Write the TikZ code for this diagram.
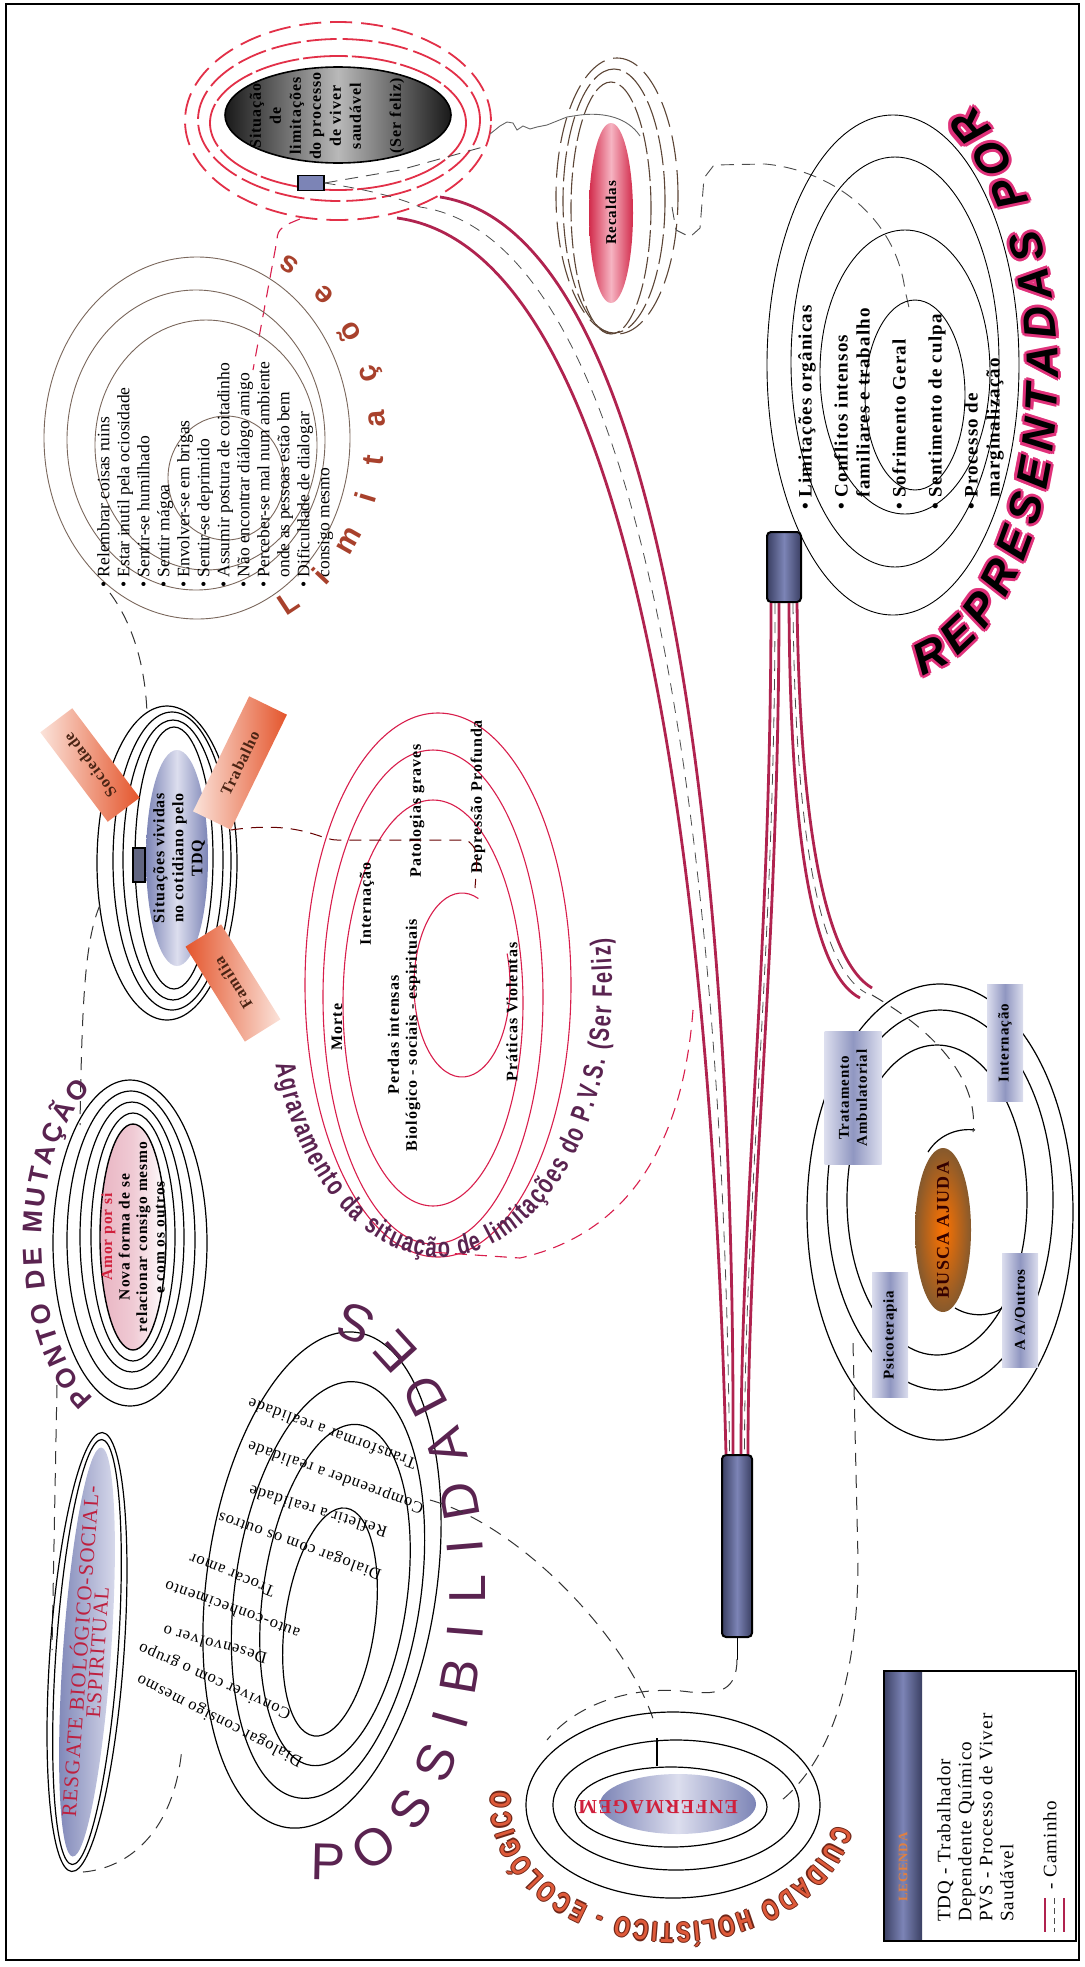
\documentclass[tikz,border=0pt]{standalone}
\usepackage{fontspec}
\setmainfont{Liberation Serif}
\setsansfont{Liberation Sans}
\newfontfamily\wideserif[LetterSpace=6]{Liberation Serif}
\newfontfamily\narrowsans[FakeStretch=0.72]{Liberation Sans}
\usetikzlibrary{shapes.geometric, positioning, decorations.text}

\newcommand\fsz[2]{\fontsize{#1}{#2}\selectfont}
\newcommand\reptext{\sffamily\bfseries\itshape\fsz{45}{45}}

\definecolor{road}{HTML}{B0234F}
\definecolor{ringred}{HTML}{E23048}
\definecolor{ringbrown}{HTML}{5C4536}
\definecolor{listbrown}{HTML}{7A675C}
\definecolor{spiral}{HTML}{D81E4C}
\definecolor{plum}{HTML}{5A2350}
\definecolor{rust}{HTML}{A8412C}
\definecolor{tabor}{HTML}{E4552C}
\definecolor{tabpale}{HTML}{FBE3DA}
\definecolor{tabtext}{HTML}{4A2414}
\definecolor{slate}{HTML}{7C84B6}
\definecolor{slatelt}{HTML}{DCDEEE}
\definecolor{slatedk}{HTML}{3A3F62}
\definecolor{pinkglow}{HTML}{E0317A}
\definecolor{ecoor}{HTML}{DE5A3A}
\definecolor{ecodk}{HTML}{6E2618}
\definecolor{amorred}{HTML}{D0203C}
\definecolor{recred}{HTML}{D22B4B}
\definecolor{recpale}{HTML}{F6B4C2}
\definecolor{amorpink}{HTML}{E9B4C2}
\definecolor{legor}{HTML}{E08040}

\begin{document}
\begin{tikzpicture}[
  x=1pt, y=-1pt,
  ring/.style={draw=black, line width=1.2pt},
  listring/.style={draw=listbrown, line width=0.9pt},
  redring/.style={draw=ringred, line width=1.8pt},
  brownring/.style={draw=ringbrown, line width=1.1pt, dash pattern=on 22pt off 5pt},
  spiralring/.style={draw=spiral, line width=1.1pt},
  roadline/.style={draw=road, line width=2.8pt},
  roadmid/.style={draw=gray!60!black, line width=0.8pt, dash pattern=on 11pt off 8pt},
  link/.style={draw=black!80, line width=1pt, dash pattern=on 13pt off 9pt},
  redlink/.style={draw=spiral, line width=1.1pt, dash pattern=on 12pt off 8pt},
  graylink/.style={draw=gray!60!black, line width=0.9pt, dash pattern=on 13pt off 8pt},
  vlabel/.style={rotate=90, align=center, inner sep=0pt},
  blob/.style={ellipse, inner sep=0pt},
  plug/.style={draw=black, line width=2pt, rounded corners=4pt, inner sep=0pt, left color=slatedk, right color=slatedk, middle color=slate},
  tab/.style={inner sep=0pt, text=tabtext, font=\wideserif\bfseries\fsz{16}{18}, left color=tabpale, right color=tabor},
  bluebox/.style={rotate=90, inner sep=0pt, align=center, font=\wideserif\bfseries\fsz{15}{18}, left color=slatelt, right color=slatelt, middle color=slate!85},
  upside/.style={inner sep=0pt, font=\wideserif\fsz{16.5}{18}},
]
\useasboundingbox (0,0) rectangle (1084,1967);

% Frame
\draw[line width=2.5pt] (6,4) rectangle (1079,1960);

% Situacao de limitacoes
\draw[redring, dash pattern=on 45pt off 4pt] (338,123) ellipse[x radius=128pt, y radius=67pt];
\draw[redring, dash pattern=on 30pt off 6pt] (339,120) ellipse[x radius=141pt, y radius=81pt];
\draw[redring, dash pattern=on 22pt off 9pt] (338,121) ellipse[x radius=153pt, y radius=99pt];
\node[blob, draw=black, line width=1.6pt, minimum width=226pt, minimum height=96pt, left color=gray!20!black, right color=gray!20!black, middle color=gray!55] (sit) at (338,115) {};
\node[vlabel, font=\wideserif\bfseries\fsz{16}{20}] (sittext) at (327,116) {Situação\\de\\limitações\\do processo\\de viver\\saudável\\[20pt](Ser feliz)};
\node[draw=black, line width=1.2pt, fill=slate, minimum width=26pt, minimum height=15pt, inner sep=0pt] (sitplug) at (311,183) {};

% Recaidas
\draw[brownring] (611,208) ellipse[x radius=40pt, y radius=126pt];
\draw[brownring, dash pattern=on 30pt off 6pt] (614,201) ellipse[x radius=51pt, y radius=132pt];
\draw[brownring, dash pattern=on 26pt off 9pt] (617,196) ellipse[x radius=61pt, y radius=138pt];
\node[blob, minimum width=44pt, minimum height=180pt, left color=recred, right color=recred, middle color=recpale] (rec) at (611,213) {};
\node[vlabel, font=\wideserif\bfseries\fsz{15}{18}] (rectext) at (rec) {Recaldas};
\draw[black!60, line width=0.9pt] (490,134) -- (500,126) -- (507,122) -- (513,123) -- (517,130) -- (523,126) -- (530,129) -- (537,127) -- (547,125) -- (557,121) -- (567,117) -- (580,115) .. controls (605,112) and (628,118) .. (640,136);
\draw[graylink] (sitplug.east) -- (400,170) -- (483,147);
\draw[graylink] (672,207) -- (676,230) -- (690,237) -- (700,228) -- (704,178) -- (714,165) -- (765,164) .. controls (830,170) and (895,215) .. (905,290) -- (910,312);
\draw[redlink] (300,219) .. controls (285,225) and (277,228) .. (277,240) -- (253,370);

% Limitacoes (lista)
\draw[listring] (197,438) ellipse[x radius=153pt, y radius=181pt];
\draw[listring] (196,440) ellipse[x radius=129pt, y radius=150pt];
\draw[listring] (206,445) ellipse[x radius=111pt, y radius=125pt];
\draw[listring] (226,478) ellipse[x radius=58pt, y radius=62pt];
\node[vlabel, anchor=north west, align=left, font=\fsz{17.5}{20}] (limlist) at (97,588) {\textbullet\ Relembrar coisas ruins\\
\textbullet\ Estar inutil pela ociosidade\\
\textbullet\ Sentir-se humilhado\\
\textbullet\ Sentir mágoa\\
\textbullet\ Envolver-se em brigas\\
\textbullet\ Sentir-se deprimido\\
\textbullet\ Assumir postura de coitadinho\\
\textbullet\ Não encontrar diálogo amigo\\
\textbullet\ Perceber-se mal num ambiente\\
\phantom{\textbullet\ }onde as pessoas estão bem\\
\textbullet\ Dificuldade de dialogar\\
\phantom{\textbullet\ }consigo mesmo};
\path[decorate, decoration={text along path, text align=fit to path, text color=rust, text={|\sffamily\bfseries\fsz{30}{30}|Limitações}}]
  ({200+185*cos(-62)},{435-205*sin(-62)}) arc[start angle=-62, end angle=62, x radius=185pt, y radius=205pt];

% Limitacoes organicas
\draw[ring, line width=0.9pt] (893,365) ellipse[x radius=126pt, y radius=250pt];
\draw[ring, line width=0.9pt] (895,362) ellipse[x radius=104pt, y radius=205pt];
\draw[ring, line width=0.9pt] (905,372) ellipse[x radius=85pt, y radius=142pt];
\draw[ring, line width=0.9pt] (915,395) ellipse[x radius=50pt, y radius=95pt];
\node[vlabel, anchor=north west, align=left, font=\wideserif\bfseries\fsz{19}{22}] (orglist) at (798,510) {\textbullet\ Limitações orgânicas\\[14pt]
\textbullet\ Conflitos intensos\\
\phantom{\textbullet\ }familiares e trabalho\\[14pt]
\textbullet\ Sofrimento Geral\\[14pt]
\textbullet\ Sentimento de culpa\\[14pt]
\textbullet\ Processo de\\
\phantom{\textbullet\ }marginalização};
\foreach \dx/\dy in {-3/0,3/0,0/-3,0/3,-2.1/-2.1,2.1/2.1,-2.1/2.1,2.1/-2.1}
  \path[shift={(\dx,\dy)}, decorate, decoration={text along path, text align=fit to path, text color=pinkglow, text={|\reptext|REPRESENTADAS POR}}]
    ({893+165*cos(-80)},{375-305*sin(-80)}) arc[start angle=-80, end angle=62, x radius=165pt, y radius=305pt];
\path[decorate, decoration={text along path, text align=fit to path, text color=black, text={|\reptext|REPRESENTADAS POR}}]
  ({893+165*cos(-80)},{375-305*sin(-80)}) arc[start angle=-80, end angle=62, x radius=165pt, y radius=305pt];

% Caminhos
\node[plug, minimum width=34pt, minimum height=70pt] (plugtop) at (784,567) {};
\node[plug, minimum width=30pt, minimum height=182pt] (plugbot) at (737,1546) {};
\draw[roadline] (397,218) .. controls (640,250) and (712,900) .. ([xshift=-11pt]plugbot.north);
\draw[roadline] (440,197) .. controls (670,232) and (735,880) .. ([xshift=-4pt]plugbot.north);
\draw[roadmid] (sitplug.east) .. controls (370,190) and (400,198) .. (420,207) .. controls (655,241) and (724,890) .. ([xshift=-7.5pt]plugbot.north);
\draw[roadline] ([xshift=-13pt]plugtop.south) .. controls (771,950) and (741,1200) .. ([xshift=4pt]plugbot.north);
\draw[roadline] ([xshift=-5pt]plugtop.south) .. controls (779,950) and (748,1200) .. ([xshift=11pt]plugbot.north);
\draw[roadmid] ([xshift=-9pt]plugtop.south) .. controls (775,950) and (744.5,1200) .. ([xshift=7.5pt]plugbot.north);
\draw[roadline] ([xshift=5pt]plugtop.south) .. controls (790,850) and (815,975) .. (860,998);
\draw[roadline] ([xshift=13pt]plugtop.south) .. controls (800,840) and (828,962) .. (872,988);
\draw[roadmid] ([xshift=9pt]plugtop.south) .. controls (795,845) and (821,968) .. (866,993);

% Agravamento
\draw[spiralring] (438,985) ellipse[x radius=133pt, y radius=272pt];
\draw[spiralring] (433,997) ellipse[x radius=110pt, y radius=247pt];
\draw[spiralring] (433,1003) ellipse[x radius=90pt, y radius=203pt];
\draw[spiralring] ({462+48*cos(70)},{985-92*sin(70)}) arc[start angle=70, end angle=380, x radius=48pt, y radius=92pt];
\foreach \txt/\px/\py [count=\k] in {Morte/337/1027, Internação/367/904, Patologias graves/417/811, Depressão Profunda/478/797, Práticas Violentas/512/1012}
  \node[vlabel, font=\wideserif\bfseries\fsz{16}{18}] (grave\k) at (\px,\py) {\txt};
\node[vlabel, font=\wideserif\bfseries\fsz{16}{18}] (perdas) at (404,1035) {Perdas intensas\\Biológico - sociais - espirituais};
\path[decorate, decoration={text along path, text align=fit to path, text color=plum, text={|\narrowsans\bfseries\fsz{28}{28}|Agravamento da situação de limitações do P.V.S. (Ser Feliz)}}]
  ({440+172*cos(-163)},{985-272*sin(-163)}) arc[start angle=-163, end angle=10, x radius=172pt, y radius=272pt];
\draw[redlink] (693,1010) .. controls (680,1180) and (600,1240) .. (520,1258) -- (430,1252);

% Situacoes vividas (TDQ)
\draw[ring] (174,858) ellipse[x radius=39pt, y radius=131pt];
\draw[ring] (173,860) ellipse[x radius=50pt, y radius=140pt];
\draw[ring] (172,861) ellipse[x radius=59pt, y radius=149pt];
\draw[ring] (167,863) ellipse[x radius=70pt, y radius=157pt];
\node[blob, minimum width=62pt, minimum height=216pt, left color=slate, right color=slate, middle color=slatelt] (tdq) at (177,858) {};
\node[vlabel, font=\wideserif\bfseries\fsz{16}{19}] (tdqtext) at (179,858) {Situações vividas\\no cotidiano pelo\\TDQ};
\node[draw=black, line width=1.2pt, fill=slatedk!80, minimum width=12pt, minimum height=34pt, inner sep=0pt] (tdqplug) at (139,865) {};
\node[tab, rotate=127, minimum width=112pt, minimum height=40pt] (soc) at (90,765) {Sociedade};
\node[tab, rotate=64, minimum width=128pt, minimum height=42pt] (trab) at (240,763) {Trabalho};
\node[tab, rotate=122, minimum width=112pt, minimum height=42pt, left color=tabor, right color=tabpale] (fam) at (233,983) {Família};
\draw[draw=black!60!red, line width=1pt, dash pattern=on 12pt off 8pt] (trab.south west) .. controls (300,820) and (320,840) .. (337,840) -- (467,840) .. controls (478,850) .. (475,888);
\draw[link] (110,593) .. controls (130,620) and (145,660) .. (147,713);
\draw[link] (100,905) .. controls (85,940) and (82,1000) .. (80,1125);

% Ponto de mutacao
\draw[ring] (133,1237) ellipse[x radius=42pt, y radius=124pt];
\draw[ring] (132,1237) ellipse[x radius=52pt, y radius=135pt];
\draw[ring] (131,1240) ellipse[x radius=64pt, y radius=149pt];
\draw[ring] (130,1243) ellipse[x radius=77pt, y radius=163pt];
\node[blob, draw=black, line width=1.4pt, minimum width=66pt, minimum height=226pt, left color=amorpink, right color=white, middle color=amorpink!70] (amor) at (133,1237) {};
\node[vlabel, font=\wideserif\bfseries\fsz{15.5}{17.5}] (amortext) at (133,1237) {\textcolor{amorred}{Amor por si}\\Nova forma de se\\relacionar consigo mesmo\\e com os outros};
\path[decorate, decoration={text along path, text align=fit to path, text color=plum, text={|\sffamily\bfseries\fsz{27}{27}|PONTO DE MUTAÇÃO}}]
  ({132+90*cos(-115)},{1242-172*sin(-115)}) arc[start angle=-115, end angle=-243, x radius=90pt, y radius=172pt];
\draw[link] (57,1385) -- (52,1650);

% Resgate
\draw[ring, rotate around={-4:(87,1652)}] (87,1652) ellipse[x radius=37pt, y radius=220pt];
\draw[ring, rotate around={-4:(87,1652)}] (87,1652) ellipse[x radius=31pt, y radius=213pt];
\node[blob, rotate=-4, minimum width=48pt, minimum height=410pt, left color=slate, right color=slatelt] (resg) at (87,1652) {};
\node[rotate=86, align=center, inner sep=0pt, text=amorred!85!plum, font=\wideserif\fsz{21}{17}] (resgtext) at (resg) {RESGATE BIOLÓGICO-SOCIAL-\\ESPIRITUAL};
\draw[link] (83,1872) .. controls (130,1868) and (175,1830) .. (182,1747);

% Possibilidades
\draw[ring, rotate around={-8:(322,1580)}] (322,1580) ellipse[x radius=115pt, y radius=250pt];
\draw[ring, rotate around={-8:(328,1590)}] (328,1590) ellipse[x radius=93pt, y radius=210pt];
\draw[ring, rotate around={-8:(335,1595)}] (335,1595) ellipse[x radius=72pt, y radius=172pt];
\draw[ring, rotate around={-8:(330,1622)}] (330,1622) ellipse[x radius=45pt, y radius=115pt];
\foreach \txt/\px/\py/\ang [count=\k] in {Transformar a realidade/332/1434/160, Compreender a realidade/336/1476/160, Refletir a realidade/318/1512/163, Dialogar com os outros/300/1545/160, Trocar amor/232/1575/158, auto-conhecimento/232/1610/160, Desenvolver o/215/1645/165, Conviver com o grupo/215/1680/156, Dialogar consigo mesmo/220/1720/153}
  \node[upside, rotate=\ang] (poss\k) at (\px,\py) {\txt};
\path[decorate, decoration={text along path, text align=fit to path, text color=plum, text={|\sffamily\fsz{52}{52}|POSSIBILIDADES}}]
  ({330+155*cos(-97)},{1590-290*sin(-97)}) arc[start angle=-97, end angle=84, x radius=155pt, y radius=290pt];
\draw[link] (430,1500) .. controls (520,1525) and (630,1640) .. (655,1725);
\draw[ring] (657,1738) -- (657,1766);

% Enfermagem
\draw[ring] (671,1807) ellipse[x radius=96pt, y radius=40pt];
\draw[ring] (676,1805) ellipse[x radius=123pt, y radius=65pt];
\draw[ring] (673,1805) ellipse[x radius=147pt, y radius=93pt];
\node[blob, minimum width=156pt, minimum height=60pt, left color=slate, right color=slate, middle color=slatelt] (enf) at (678,1804) {};
\node[rotate=180, inner sep=0pt, text=amorred, font=\wideserif\bfseries\fsz{20}{20}] (enftext) at (658,1807) {ENFERMAGEM};
\foreach \dx/\dy in {-1.3/0,1.3/0,0/-1.3,0/1.3}
  \path[shift={(\dx,\dy)}, decorate, decoration={text along path, text align=fit to path, text color=ecodk, text={|\narrowsans\bfseries\fsz{28}{28}|CUIDADO HOLÍSTICO - ECOLÓGICO}}]
    ({673+163*cos(-10)},{1805-118*sin(-10)}) arc[start angle=-10, end angle=-186, x radius=163pt, y radius=118pt];
\path[decorate, decoration={text along path, text align=fit to path, text color=ecoor, text={|\narrowsans\bfseries\fsz{28}{28}|CUIDADO HOLÍSTICO - ECOLÓGICO}}]
  ({673+163*cos(-10)},{1805-118*sin(-10)}) arc[start angle=-10, end angle=-186, x radius=163pt, y radius=118pt];
\draw[ring, line width=1pt] (plugbot.south) -- ++(0,22);
\draw[link] (737,1659) .. controls (737,1690) and (720,1695) .. (690,1692) .. controls (640,1685) and (580,1700) .. (547,1740);

% Busca ajuda
\draw[ring] (937,1200) ellipse[x radius=90pt, y radius=155pt];
\draw[ring] (940,1200) ellipse[x radius=113pt, y radius=190pt];
\draw[ring] (940,1212) ellipse[x radius=133pt, y radius=228pt];
\draw[ring] (928,1152) .. controls (940,1133) and (960,1128) .. (975,1130);
\draw[ring] (955,1308) .. controls (975,1320) and (998,1314) .. (1005,1305);
\node[blob, minimum width=56pt, minimum height=164pt, inner color=orange!90!red, outer color=brown!70!black] (busca) at (943,1230) {};
\node[vlabel, font=\wideserif\bfseries\fsz{18}{20}, text=black!80!red] (buscatext) at (busca) {BUSCA AJUDA};
\node[bluebox, minimum width=133pt, minimum height=57pt] (amb) at (853,1098) {Tratamento\\Ambulatorial};
\node[bluebox, minimum width=117pt, minimum height=36pt] (intern) at (1005,1043) {Internação};
\node[bluebox, minimum width=125pt, minimum height=36pt] (psi) at (890,1335) {Psicoterapia};
\node[bluebox, minimum width=114pt, minimum height=36pt] (aaout) at (1020,1310) {A A/Outros};
\draw[link] (872,995) .. controls (950,1040) and (978,1090) .. (973,1132);
\draw[link] (853,1343) -- (858,1560) .. controls (858,1680) and (830,1760) .. (782,1800);

% Legenda
\node[anchor=north west, minimum width=39pt, minimum height=270pt, inner sep=0pt, left color=slatedk, right color=slatedk, middle color=slate] (leghead) at (883,1670) {};
\node[draw=black, line width=2.2pt, anchor=north west, minimum width=192pt, minimum height=270pt, inner sep=0pt] (legbox) at (883,1670) {};
\node[vlabel, font=\wideserif\bfseries\fsz{13}{13}, text=legor] (legtitle) at (903,1867) {LEGENDA};
\node[vlabel, anchor=north west, align=left, font=\wideserif\fsz{19}{21}] (legtext) at (937,1922) {TDQ - Trabalhador\\Dependente Químico\\PVS - Processo de Viver\\Saudável\\[22pt]\hspace*{32pt}- Caminho};
\draw[roadline] (1045,1898) -- (1045,1932);
\draw[roadline] (1064,1898) -- (1064,1932);
\draw[roadmid, dash pattern=on 6pt off 4pt] (1054.5,1898) -- (1054.5,1932);

\end{tikzpicture}
\end{document}
